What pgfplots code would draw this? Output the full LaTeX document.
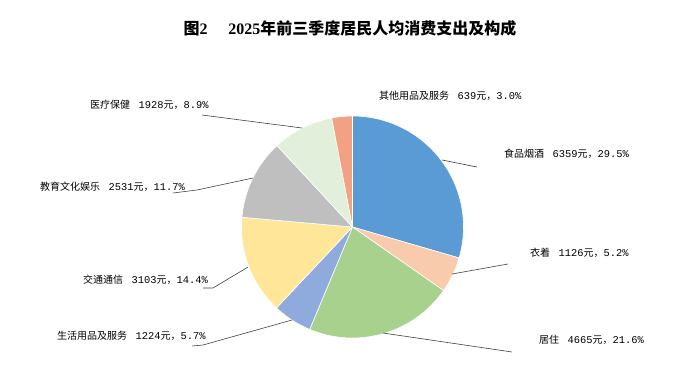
\documentclass[border=0pt]{standalone}
\usepackage{pgfplots}
\pgfplotsset{compat=1.18}
\usepackage{fontspec}
\setmainfont{Liberation Serif}
\setmonofont{Liberation Mono}
\newfontfamily\cjk{Noto Sans CJK SC}
\definecolor{cfood}{HTML}{5B9BD5}
\definecolor{ccloth}{HTML}{F8CBAD}
\definecolor{chouse}{HTML}{A9D18E}
\definecolor{cdaily}{HTML}{8FAADC}
\definecolor{ctrans}{HTML}{FFE699}
\definecolor{cedu}{HTML}{BFBFBF}
\definecolor{cmed}{HTML}{E2EFDA}
\definecolor{cother}{HTML}{F2A283}
\newcommand{\lab}[3]{\fontsize{10}{12}\selectfont{\cjk #1}\hspace{8.5pt}{\fontsize{10.4}{12}\selectfont\ttfamily #2}{\cjk 元，}{\fontsize{10.4}{12}\selectfont\ttfamily #3\%}}
\begin{document}
\begin{tikzpicture}
\begin{axis}[width=699pt,height=389pt,scale only axis,
  xmin=0,xmax=699,ymin=0,ymax=389,y dir=reverse,hide axis,clip=false]
\path (axis cs:0,0) rectangle (axis cs:699,389);
% slices: percentage shares, clockwise from 12 o'clock
\gdef\angstart{90}
\foreach \pp/\cc in {29.5/cfood,5.2/ccloth,21.6/chouse,5.7/cdaily,14.4/ctrans,11.7/cedu,8.9/cmed,3.0/cother}{
  \pgfmathsetmacro{\angend}{\angstart-3.6*\pp}
  \edef\temp{\noexpand\fill[\cc,draw=white,line width=0.6pt] (axis cs:352.5,227) -- ++(\angstart:111pt) arc[start angle=\angstart,end angle=\angend,radius=111pt] -- cycle;}
  \temp
  \xdef\angstart{\angend}
}
% leader lines
\draw[black!75,line width=0.6pt] (axis cs:442,160) -- (axis cs:477,167);
\draw[black!75,line width=0.6pt] (axis cs:452,274) -- (axis cs:508,264);
\draw[black!75,line width=0.6pt] (axis cs:383,333) -- (axis cs:512,352);
\draw[black!75,line width=0.6pt] (axis cs:292,320) -- (axis cs:203,345) -- (axis cs:192,346);
\draw[black!75,line width=0.6pt] (axis cs:248,267) -- (axis cs:213,288) -- (axis cs:203,288);
\draw[black!75,line width=0.6pt] (axis cs:253,178) -- (axis cs:197,190) -- (axis cs:173,193);
\draw[black!75,line width=0.6pt] (axis cs:302,128) -- (axis cs:202,115);
% labels
\node[anchor=west,inner sep=0pt] at (axis cs:90,105) {\lab{医疗保健}{1928}{8.9}};
\node[anchor=west,inner sep=0pt] at (axis cs:379,96) {\lab{其他用品及服务}{639}{3.0}};
\node[anchor=west,inner sep=0pt] at (axis cs:504,154) {\lab{食品烟酒}{6359}{29.5}};
\node[anchor=west,inner sep=0pt] at (axis cs:530,253) {\lab{衣着}{1126}{5.2}};
\node[anchor=west,inner sep=0pt] at (axis cs:539,340) {\lab{居住}{4665}{21.6}};
\node[anchor=west,inner sep=0pt] at (axis cs:83,280) {\lab{交通通信}{3103}{14.4}};
\node[anchor=west,inner sep=0pt] at (axis cs:57,336) {\lab{生活用品及服务}{1224}{5.7}};
\node[anchor=west,inner sep=0pt] at (axis cs:40,187) {\lab{教育文化娱乐}{2531}{11.7}};
% title
\node[anchor=center,inner sep=0pt] at (axis cs:350,28) {\fontsize{16}{18}\selectfont\bfseries{\cjk 图}2\hspace{1.3em}2025{\cjk 年前三季度居民人均消费支出及构成}};
\end{axis}
\end{tikzpicture}
\end{document}
